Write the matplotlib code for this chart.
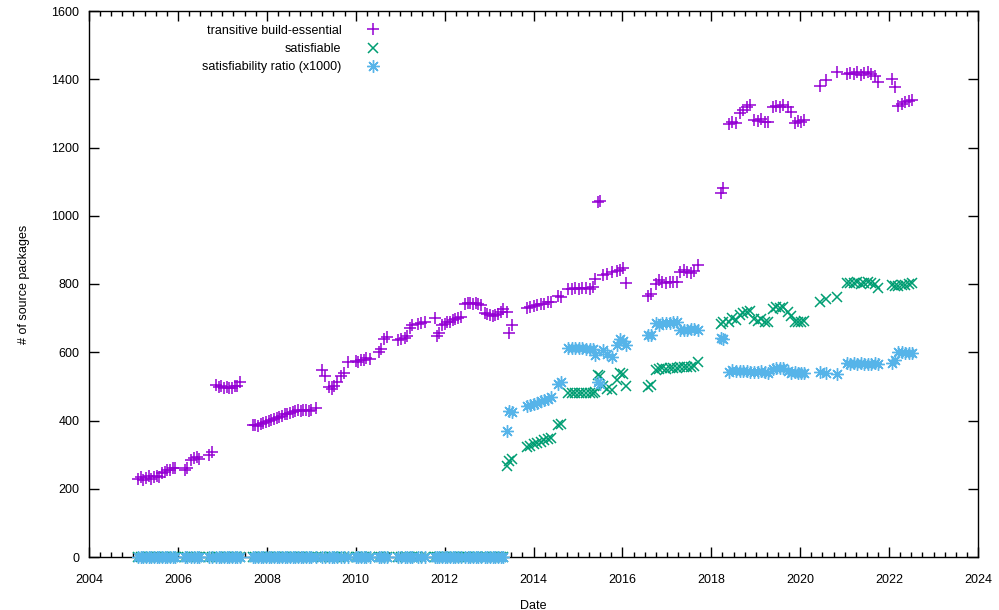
import matplotlib
matplotlib.use("Agg")
import matplotlib.pyplot as plt
import numpy as np

plt.rcParams['font.family'] = ['Liberation Sans', 'DejaVu Sans']
plt.rcParams['font.size'] = 8

# snapshot dates (decimal years)
dates = [
    # 2005
    2005.10, 2005.16, 2005.22, 2005.28, 2005.34, 2005.40, 2005.46, 2005.52, 2005.58, 2005.64,
    2005.70, 2005.76, 2005.82, 2005.88, 2005.94,
    # 2006-2007
    2006.15, 2006.21, 2006.30, 2006.36, 2006.42, 2006.48, 2006.70, 2006.76, 2006.86, 2006.92,
    2006.98, 2007.04, 2007.10, 2007.16, 2007.22, 2007.28, 2007.34, 2007.40,
    # 2007-2010
    2007.68, 2007.74, 2007.80, 2007.86, 2007.92, 2007.98, 2008.04, 2008.10, 2008.16, 2008.22,
    2008.28, 2008.34, 2008.40, 2008.46, 2008.52, 2008.58, 2008.64, 2008.70, 2008.76, 2008.82,
    2008.88, 2008.94, 2009.00, 2009.10, 2009.24, 2009.32, 2009.40, 2009.46, 2009.52, 2009.58,
    2009.66, 2009.74, 2009.82, 2010.00, 2010.06, 2010.12, 2010.18, 2010.24, 2010.32, 2010.52,
    2010.58, 2010.64, 2010.70,
    # 2011
    2010.95, 2011.02, 2011.10, 2011.16, 2011.22, 2011.26, 2011.40, 2011.48, 2011.56,
    # 2011-2013
    2011.78, 2011.84, 2011.88, 2011.94, 2012.00, 2012.06, 2012.12, 2012.18, 2012.24, 2012.30,
    2012.36, 2012.46, 2012.52, 2012.58, 2012.64, 2012.70, 2012.76, 2012.82, 2012.90, 2012.96,
    2013.02, 2013.08, 2013.14, 2013.20, 2013.26, 2013.32,
    # 2013-2014
    2013.40, 2013.46, 2013.52, 2013.85, 2013.93, 2014.00, 2014.08, 2014.16, 2014.24, 2014.32,
    2014.40, 2014.55, 2014.62,
    # 2014-2016
    2014.78, 2014.86, 2014.94, 2015.02, 2015.10, 2015.18, 2015.26, 2015.34, 2015.38, 2015.45,
    2015.50, 2015.56, 2015.65, 2015.77, 2015.88, 2015.95, 2016.02, 2016.08,
    # 2016-2017
    2016.58, 2016.64, 2016.75, 2016.82, 2016.90, 2016.98, 2017.06, 2017.14, 2017.22, 2017.30,
    2017.38, 2017.46, 2017.54, 2017.62, 2017.70,
    # 2018-2020
    2018.22, 2018.27, 2018.40, 2018.46, 2018.55, 2018.65, 2018.72, 2018.80, 2018.88, 2018.96,
    2019.04, 2019.12, 2019.20, 2019.28, 2019.38, 2019.46, 2019.54, 2019.62, 2019.72, 2019.80,
    2019.88, 2019.95, 2020.02, 2020.08,
    # 2020-2022
    2020.45, 2020.58, 2020.83, 2021.05, 2021.12, 2021.20, 2021.28, 2021.36, 2021.44, 2021.52,
    2021.60, 2021.68, 2021.74, 2022.06, 2022.13, 2022.20, 2022.28, 2022.36, 2022.44, 2022.52,
]

# transitive build-essential
total = [
    228, 234, 226, 232, 236, 230, 234, 238, 233, 246,
    250, 254, 256, 260, 262,
    255, 262, 285, 290, 292, 286, 300, 308, 505, 498,
    500, 496, 498, 495, 494, 500, 502, 512,
    386, 388, 385, 390, 392, 395, 400, 402, 405, 407,
    410, 412, 418, 420, 422, 425, 427, 430, 428, 430,
    432, 428, 430, 436, 548, 530, 498, 492, 500, 512,
    530, 540, 572, 575, 570, 578, 576, 582, 580, 600,
    610, 640, 645,
    636, 640, 643, 648, 672, 680, 682, 686, 690,
    700, 648, 655, 680, 684, 688, 690, 694, 697, 700,
    703, 742, 745, 744, 742, 745, 740, 738, 716, 712,
    710, 706, 709, 712, 718, 726,
    718, 656, 680, 730, 733, 736, 738, 740, 742, 746,
    748, 766, 762,
    784, 786, 788, 785, 787, 789, 786, 790, 816, 1041,
    1044, 826, 830, 835, 838, 842, 847, 803,
    765, 772, 800, 812, 806, 804, 806, 806, 805, 835,
    840, 836, 832, 838, 855,
    1068, 1080, 1270, 1275, 1272, 1300, 1310, 1318, 1326, 1282,
    1278, 1284, 1276, 1274, 1318, 1322, 1320, 1324, 1318, 1305,
    1272, 1278, 1275, 1282,
    1380, 1398, 1420, 1414, 1418, 1416, 1420, 1412, 1418, 1422,
    1415, 1410, 1392, 1401, 1376, 1322, 1328, 1332, 1336, 1340,
]

# satisfiable (nothing was satisfiable before mid 2013)
satisfiable_late = [
    266, 280, 288, 322, 326, 330, 334, 338, 342, 345,
    350, 388, 390,
    480, 481, 482, 480, 481, 482, 480, 482, 484, 533,
    530, 501, 493, 490, 520, 539, 536, 500,
    498, 503, 548, 552, 553, 552, 553, 555, 555, 556,
    558, 557, 556, 560, 570,
    684, 690, 690, 700, 695, 710, 715, 718, 720, 696,
    692, 698, 690, 688, 728, 732, 730, 733, 718, 705,
    688, 690, 688, 692,
    748, 755, 762, 802, 804, 803, 805, 801, 803, 806,
    802, 800, 788, 796, 795, 795, 797, 798, 800, 802,
]
satisfiable = [0] * (len(total) - len(satisfiable_late)) + satisfiable_late

dates = np.array(dates)
total = np.array(total, dtype=float)
satisfiable = np.array(satisfiable, dtype=float)
ratio = satisfiable / total * 1000

purple = '#9400d3'
green = '#009e73'
blue = '#56b4e9'

fig = plt.figure(figsize=(9.99, 6.10), dpi=100)
ax = fig.add_axes([89 / 999, 53 / 610, 889 / 999, 546 / 610])

ax.plot(dates, total, linestyle='none', marker='+', markersize=8, markeredgewidth=1.1,
        color=purple, label='transitive build-essential')
ax.plot(dates, satisfiable, linestyle='none', marker='x', markersize=7.5, markeredgewidth=1.1,
        color=green, label='satisfiable', clip_on=False)
ax.plot(dates, ratio, linestyle='none', marker=(8, 2, 0), markersize=9, markeredgewidth=1.0,
        color=blue, label='satisfiability ratio (x1000)', clip_on=False)

ax.set_xlim(2004, 2024)
ax.set_ylim(0, 1600)
ax.set_xticks(range(2004, 2025, 2))
ax.set_xticks(np.arange(2004, 2024.01, 0.25), minor=True)
ax.set_yticks(range(0, 1601, 200))
ax.tick_params(which='both', direction='in', top=True, right=True, width=1, color='black',
               labelsize=9)
ax.tick_params(axis='x', pad=12)
ax.tick_params(axis='y', pad=7)
ax.tick_params(which='major', length=7)
ax.tick_params(which='minor', length=3.5)
for s in ax.spines.values():
    s.set_linewidth(1.0)
    s.set_zorder(1)

ax.set_xlabel('Date', fontsize=9, labelpad=10)
ax.set_ylabel('# of source packages', fontsize=9, labelpad=15)

ax.legend(loc='upper right', bbox_to_anchor=(290 / 889, 0.975), markerfirst=False, frameon=False,
          fontsize=9, handlelength=1.0, handletextpad=2.0, labelspacing=0.5,
          borderpad=0, borderaxespad=0)

fig.savefig('out.png', dpi=100)
